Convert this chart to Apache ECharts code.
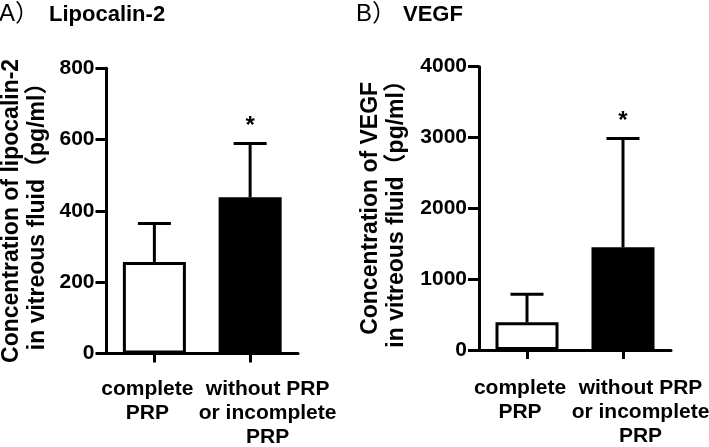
<!DOCTYPE html>
<html>
<head>
<meta charset="utf-8">
<script src="https://cdn.jsdelivr.net/npm/echarts@6/dist/echarts.min.js"></script>
<style>
html,body{margin:0;padding:0;background:#fff;}
#c{width:709px;height:447px;}
</style>
</head>
<body>
<div id="c"></div>
<script>
// ---- data ----
const categories = ['complete\nPRP', 'without PRP\nor incomplete\nPRP'];
const lcnMean = [257, 438];
const lcnUpper = [365, 589];
const vegfMean = [391, 1450];
const vegfUpper = [786, 2985];
const significance = ['', '*'];
const lcnTicks = { min: 0, max: 800, interval: 200 };
const vegfTicks = { min: 0, max: 4000, interval: 1000 };
const titlesLetter = ['A）', 'B）'];
const titlesName = ['Lipocalin-2', 'VEGF'];
const yNames = ['Concentration of lipocalin-2\nin vitreous fluid（pg/ml）', 'Concentration of VEGF\nin vitreous fluid（pg/ml）'];

// ---- styling (positions, not data) ----
const FONT = "'Liberation Sans', Arial, 'Noto Sans CJK SC', sans-serif";
const labelPadding = [[0, 14, 0, 0], [0, 0, 0, 35]];

const chart = echarts.init(document.getElementById('c'), null, { renderer: 'canvas' });

function xAxisCfg(gi, margin) {
  return {
    type: 'category', gridIndex: gi,
    data: categories.map((c, i) => ({ value: c, textStyle: { padding: labelPadding[i] } })),
    axisLine: { show: true, lineStyle: { color: '#000', width: 3 } },
    axisTick: { show: true, alignWithLabel: true, length: 9, lineStyle: { color: '#000', width: 3 } },
    axisLabel: { color: '#000', fontFamily: FONT, fontWeight: 'bold', fontSize: 21, lineHeight: 24, margin: margin, interval: 0, align: 'center', hideOverlap: false },
    splitLine: { show: false }
  };
}
function yAxisCfg(gi, ticks, name, gap) {
  return {
    type: 'value', gridIndex: gi, min: ticks.min, max: ticks.max, interval: ticks.interval,
    name: name, nameLocation: 'middle', nameRotate: 90, nameGap: gap,
    nameTextStyle: { color: '#000', fontFamily: FONT, fontWeight: 'bold', fontSize: 23, lineHeight: 26, align: 'center' },
    axisLine: { show: true, lineStyle: { color: '#000', width: 3 } },
    axisTick: { show: true, length: 11, lineStyle: { color: '#000', width: 3 } },
    axisLabel: { color: '#000', fontFamily: FONT, fontWeight: 'bold', fontSize: 21, margin: 12,
      formatter: v => String(v) },
    splitLine: { show: false }
  };
}
function barSeries(gi, means) {
  return {
    type: 'bar', xAxisIndex: gi, yAxisIndex: gi, barWidth: 63,
    data: means.map((v, i) => ({
      value: v,
      itemStyle: { color: i === 0 ? '#fff' : '#000', borderColor: '#000', borderWidth: 3 }
    })),
    z: 2, silent: true
  };
}
function errSeries(gi, means, uppers) {
  return {
    type: 'custom', xAxisIndex: gi, yAxisIndex: gi, z: 5, silent: true,
    data: means.map((m, i) => [i, m, uppers[i]]),
    renderItem: function (params, api) {
      const i = api.value(0);
      const p0 = api.coord([i, api.value(1)]);
      const p1 = api.coord([i, api.value(2)]);
      const cap = 16.5;
      const style = { stroke: '#000', lineWidth: 3 };
      const children = [
        { type: 'line', shape: { x1: p0[0], y1: p0[1], x2: p1[0], y2: p1[1] }, style: style },
        { type: 'line', shape: { x1: p1[0] - cap, y1: p1[1], x2: p1[0] + cap, y2: p1[1] }, style: style }
      ];
      const s = significance[params.dataIndex];
      if (s) {
        children.push({ type: 'text', x: p1[0], y: p1[1] - 5,
          style: { text: s, fill: '#000', font: 'bold 24px ' + FONT, textAlign: 'center', textVerticalAlign: 'bottom' } });
      }
      return { type: 'group', children: children };
    }
  };
}

const titleStyleLetter = { color: '#000', fontFamily: FONT, fontWeight: 'normal', fontSize: 24 };
const titleStyleName = { color: '#000', fontFamily: FONT, fontWeight: 'bold', fontSize: 22 };

chart.setOption({
  backgroundColor: '#fff',
  animation: false,
  title: [
    { text: titlesLetter[0], left: -1, top: 2, padding: 0, textStyle: titleStyleLetter },
    { text: titlesName[0], left: 49, top: 4, padding: 0, textStyle: titleStyleName },
    { text: titlesLetter[1], left: 356, top: 2, padding: 0, textStyle: titleStyleLetter },
    { text: titlesName[1], left: 403, top: 4, padding: 0, textStyle: titleStyleName }
  ],
  grid: [
    { left: 106.5, top: 68.3, right: 411, bottom: 93.5, containLabel: false, outerBoundsMode: 'none' },
    { left: 479, top: 66.7, right: 38, bottom: 97, containLabel: false, outerBoundsMode: 'none' }
  ],
  xAxis: [xAxisCfg(0, 24), xAxisCfg(1, 26)],
  yAxis: [yAxisCfg(0, lcnTicks, yNames[0], 56), yAxisCfg(1, vegfTicks, yNames[1], 69)],
  series: [
    barSeries(0, lcnMean), errSeries(0, lcnMean, lcnUpper),
    barSeries(1, vegfMean), errSeries(1, vegfMean, vegfUpper)
  ]
});
</script>
</body>
</html>
